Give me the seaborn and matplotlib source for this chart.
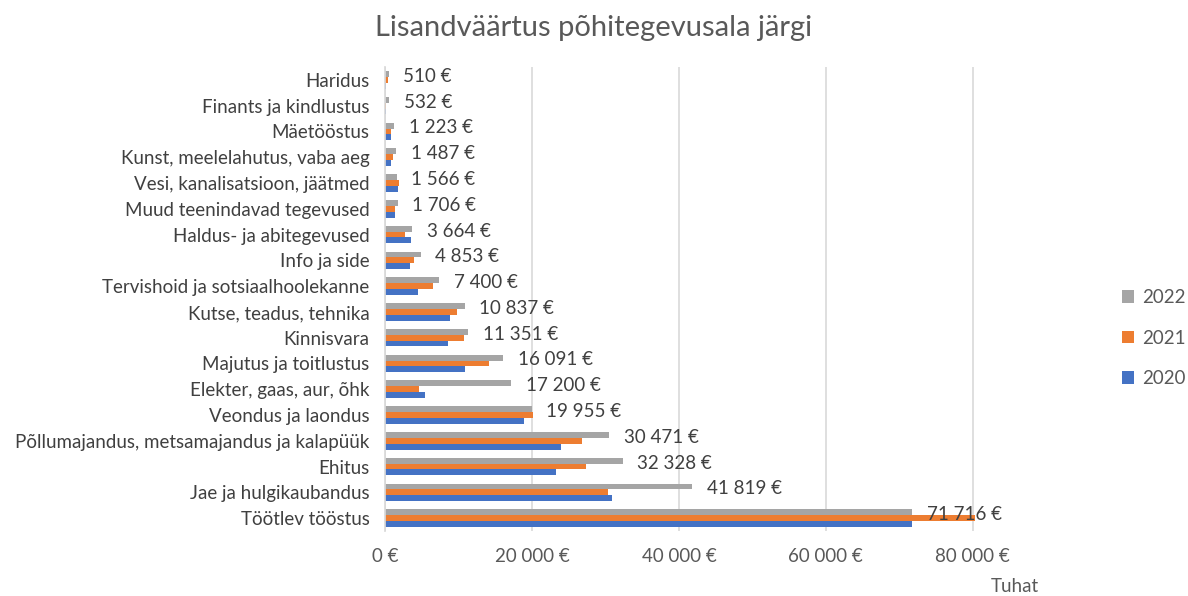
import numpy as np
import pandas as pd
import matplotlib.pyplot as plt
import seaborn as sns

categories = [
    "Haridus",
    "Finants ja kindlustus",
    "Mäetööstus",
    "Kunst, meelelahutus, vaba aeg",
    "Vesi, kanalisatsioon, jäätmed",
    "Muud teenindavad tegevused",
    "Haldus- ja abitegevused",
    "Info ja side",
    "Tervishoid ja sotsiaalhoolekanne",
    "Kutse, teadus, tehnika",
    "Kinnisvara",
    "Majutus ja toitlustus",
    "Elekter, gaas, aur, õhk",
    "Veondus ja laondus",
    "Põllumajandus, metsamajandus ja kalapüük",
    "Ehitus",
    "Jae ja hulgikaubandus",
    "Töötlev tööstus",
]

values_2022 = [510, 532, 1223, 1487, 1566, 1706, 3664, 4853, 7400, 10837,
               11351, 16091, 17200, 19955, 30471, 32328, 41819, 71716]
values_2021 = [450, 100, 800, 1150, 1900, 1400, 2750, 4000, 6500, 9800,
               10700, 14100, 4600, 20200, 26800, 27300, 30400, 80300]
values_2020 = [200, 200, 850, 800, 1750, 1300, 3600, 3400, 4450, 8900,
               8600, 10900, 5400, 18900, 24000, 23300, 30900, 71700]

years = ["2022", "2021", "2020"]
colors = {"2022": "#A5A5A5", "2021": "#ED7D31", "2020": "#4472C4"}

df = pd.DataFrame({
    "Ala": categories * 3,
    "Aasta": ["2022"] * 18 + ["2021"] * 18 + ["2020"] * 18,
    "Väärtus": values_2022 + values_2021 + values_2020,
})

sns.set_theme(style="white")
plt.rcParams["font.family"] = ["Lato", "DejaVu Sans"]

fig = plt.figure(figsize=(11.88, 5.96), dpi=100)
ax = fig.add_axes([385 / 1188, 1 - 531 / 596, (975 - 385) / 1188, (531 - 67) / 596])

bar_w = 0.68
sns.barplot(data=df, y="Ala", x="Väärtus", hue="Aasta", hue_order=years,
            order=categories, palette=colors, orient="h", width=bar_w,
            saturation=1, linewidth=0, ax=ax, legend=True)

ax.set_xlim(0, 80300)
ticks = [0, 20000, 40000, 60000, 80000]
ax.set_xticks(ticks)
ax.set_xticklabels([f"{t:,} €".replace(",", " ") for t in ticks],
                   fontsize=13.5, color="#595959")
ax.tick_params(axis="y", labelsize=13.5, labelcolor="#404040", length=0, pad=11)
ax.tick_params(axis="x", length=0, pad=12)
ax.set_xlabel("")
ax.set_ylabel("")
ax.grid(axis="x", color="#D9D9D9", linewidth=1.2)
ax.set_axisbelow(True)
for s in ["top", "right", "bottom"]:
    ax.spines[s].set_visible(False)
ax.spines["left"].set_color("#D9D9D9")

# 2022 väärtuste sildid halli tulba lõppu
bar_h = bar_w / 3
for i, v in enumerate(values_2022):
    ax.text(v + 2000, i - bar_h * 0.6, f"{v:,} €".replace(",", " "),
            va="center", ha="left", fontsize=13.5, color="#404040")

handles, labels = ax.get_legend_handles_labels()
ax.legend(handles, labels, loc="center left", bbox_to_anchor=(1122 / 1188, 1 - 338 / 596),
          bbox_transform=fig.transFigure, frameon=False, fontsize=13.5,
          labelspacing=1.25, handlelength=0.65, handleheight=0.65, handletextpad=0.4,
          borderpad=0, borderaxespad=0, labelcolor="#595959")

fig.text(0.5, 1 - 28 / 596, "Lisandväärtus põhitegevusala järgi", ha="center", va="center",
         fontsize=21, color="#595959")
fig.text(1015 / 1188, 1 - 586 / 596, "Tuhat", ha="center", va="center",
         fontsize=13.5, color="#595959")

fig.savefig("out.png", dpi=100)
